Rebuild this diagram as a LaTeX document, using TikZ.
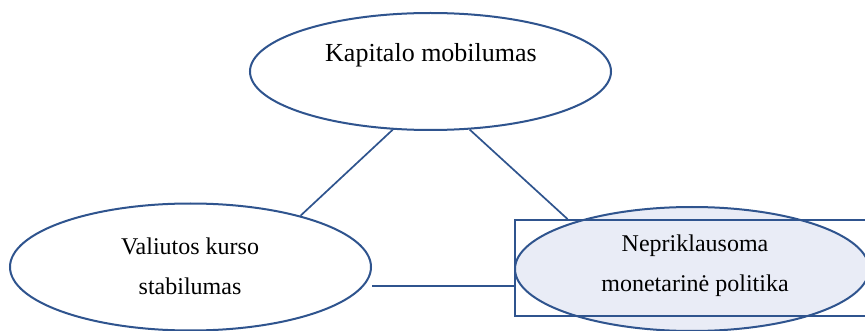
\documentclass[tikz,border=0pt]{standalone}
\usepackage{fontspec}
\setmainfont{Liberation Serif}
\usetikzlibrary{shapes.geometric}
\definecolor{edge}{RGB}{47,84,142}
\definecolor{pale}{RGB}{233,236,246}
\begin{document}
\begin{tikzpicture}[x=1pt,y=-1pt,
  oval/.style={draw=edge,line width=2pt,ellipse,inner sep=0pt},
  lbl/.style={font=\fontsize{24}{40}\selectfont,align=center,inner sep=0pt},
  link/.style={draw=edge,line width=1.7pt}]
\useasboundingbox (0,0) rectangle (865,331);
\clip (0,0) rectangle (865,331);
\fill[white] (0,0) rectangle (865,331);
\node[oval,minimum width=361pt,minimum height=117pt] (top) at (430.5,71.5) {};
\node[oval,minimum width=361pt,minimum height=127pt] (left) at (190.5,267) {};
\node[oval,fill=pale,minimum width=354pt,minimum height=124pt] (right) at (692,269) {};
\node[draw=edge,line width=1.8pt,rectangle,inner sep=0pt,minimum width=360pt,minimum height=96pt] (rect) at (695,268) {};
\node[lbl,font=\fontsize{26}{30}\selectfont] (tt) at (431,55) {Kapitalo mobilumas};
\node[lbl] (lt) at (190,266) {Valiutos kurso\\stabilumas};
\node[lbl] (rt) at (695,266) {Nepriklausoma\\monetarinė politika};
\path (rect.west) ++(0,18) coordinate (r1);
\draw[link] (top.237) -- (left.25);
\draw[link] (top.304) -- (rect.159);
\draw[link] (r1) -- (r1 -| left.east);
\end{tikzpicture}
\end{document}
